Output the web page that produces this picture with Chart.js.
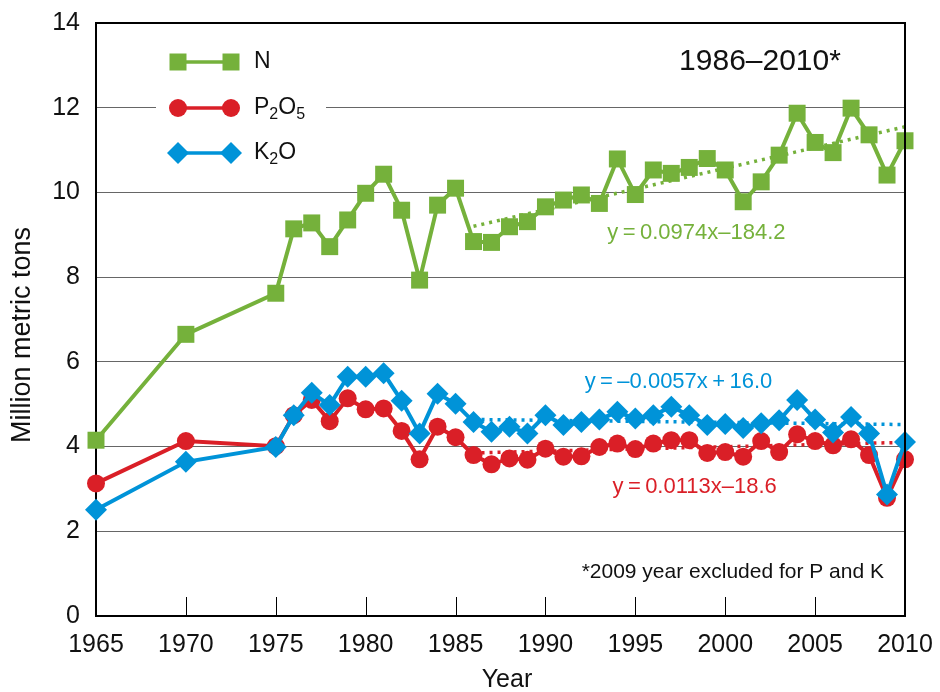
<!DOCTYPE html>
<html>
<head>
<meta charset="utf-8">
<script src="https://cdn.jsdelivr.net/npm/chart.js@4.4.1/dist/chart.umd.min.js"></script>
<style>
  body { margin: 0; background: #fff; }
  #wrap { width: 940px; height: 692px; }
</style>
</head>
<body>
<div id="wrap"><canvas id="fertChart" width="940" height="692"></canvas></div>
<script>
// Fertilizer use data (million metric tons)
const years = [1965, 1970, 1975, 1976, 1977, 1978, 1979, 1980, 1981, 1982, 1983, 1984, 1985,
    1986, 1987, 1988, 1989, 1990, 1991, 1992, 1993, 1994, 1995, 1996, 1997, 1998, 1999,
    2000, 2001, 2002, 2003, 2004, 2005, 2006, 2007, 2008, 2009, 2010];
const nValues = [4.15, 6.65, 7.62, 9.14, 9.28, 8.72, 9.35, 9.98, 10.43, 9.58, 7.93, 9.70, 10.10,
    8.84, 8.82, 9.19, 9.31, 9.66, 9.82, 9.94, 9.74, 10.79, 9.95, 10.53, 10.45, 10.59, 10.80,
    10.53, 9.78, 10.25, 10.88, 11.87, 11.18, 10.94, 11.99, 11.36, 10.41, 11.22];
const pValues = [3.13, 4.13, 4.01, 4.74, 5.10, 4.60, 5.14, 4.88, 4.90, 4.37, 3.70, 4.47, 4.22,
    3.80, 3.58, 3.72, 3.69, 3.95, 3.76, 3.77, 3.99, 4.07, 3.94, 4.07, 4.15, 4.15, 3.85,
    3.87, 3.76, 4.13, 3.87, 4.29, 4.13, 4.03, 4.17, 3.80, 2.79, 3.70];
const kValues = [2.51, 3.64, 3.99, 4.74, 5.27, 4.98, 5.65, 5.65, 5.73, 5.08, 4.31, 5.25, 5.01,
    4.58, 4.35, 4.47, 4.31, 4.74, 4.51, 4.58, 4.64, 4.82, 4.66, 4.74, 4.94, 4.74, 4.51,
    4.53, 4.44, 4.55, 4.62, 5.10, 4.64, 4.33, 4.70, 4.31, 2.87, 4.11];

// trend lines 1986-2010 (end points)
const trendYears = [1986, 2010];
const nTrend = [9.2, 11.55];
const pTrend = [3.85, 4.1];
const kTrend = [4.64, 4.52];

const xTicks = [1965, 1970, 1975, 1980, 1985, 1990, 1995, 2000, 2005, 2010];
const yTicks = [0, 2, 4, 6, 8, 10, 12, 14];

const GREEN = '#75b13b';
const RED = '#da1f27';
const BLUE = '#0093d8';
const FONT = '"Liberation Sans", Arial, Helvetica, sans-serif';

function pts(xs, ys) {
    return xs.map((x, i) => ({ x: x, y: ys[i] }));
}

function drawMarker(ctx, style, x, y, color) {
    ctx.fillStyle = color;
    ctx.beginPath();
    if (style === 'rect') {
        ctx.rect(x - 8.5, y - 8.5, 17, 17);
    } else if (style === 'circle') {
        ctx.arc(x, y, 9, 0, Math.PI * 2);
    } else {
        ctx.moveTo(x, y - 11); ctx.lineTo(x + 11, y); ctx.lineTo(x, y + 11); ctx.lineTo(x - 11, y);
        ctx.closePath();
    }
    ctx.fill();
}

// text with subscript digits, e.g. P2O5
function drawChem(ctx, text, x, y) {
    let cx = x;
    for (const ch of text) {
        if (/[0-9]/.test(ch)) {
            ctx.font = '16px ' + FONT;
            ctx.fillText(ch, cx, y + 7);
        } else {
            ctx.font = '23px ' + FONT;
            ctx.fillText(ch, cx, y);
        }
        cx += ctx.measureText(ch).width;
    }
}

const decorPlugin = {
    id: 'decor',
    afterDraw(chart) {
        const ctx = chart.ctx;
        const area = chart.chartArea;
        const xs = chart.scales.x;
        const ys = chart.scales.y;
        ctx.save();

        // inner tick marks on x axis
        ctx.strokeStyle = '#000';
        ctx.lineWidth = 1;
        xTicks.forEach(t => {
            const px = Math.round(xs.getPixelForValue(t)) + 0.5;
            ctx.beginPath();
            ctx.moveTo(px, area.bottom - 19);
            ctx.lineTo(px, area.bottom);
            ctx.stroke();
        });

        // box top and right
        ctx.lineWidth = 2;
        ctx.beginPath();
        ctx.moveTo(area.left, area.top);
        ctx.lineTo(area.right, area.top);
        ctx.lineTo(area.right, area.bottom);
        ctx.stroke();

        // legend
        ctx.fillStyle = '#fff';
        ctx.fillRect(156, 38, 170, 138);
        const items = [
            { label: 'N', color: GREEN, style: 'rect', y: 62 },
            { label: 'P2O5', color: RED, style: 'circle', y: 108 },
            { label: 'K2O', color: BLUE, style: 'diamond', y: 153 }
        ];
        items.forEach(it => {
            ctx.strokeStyle = it.color;
            ctx.lineWidth = 3.5;
            ctx.beginPath();
            ctx.moveTo(178, it.y);
            ctx.lineTo(231, it.y);
            ctx.stroke();
            drawMarker(ctx, it.style, 178, it.y, it.color);
            drawMarker(ctx, it.style, 231, it.y, it.color);
            ctx.fillStyle = '#111';
            ctx.textBaseline = 'middle';
            ctx.textAlign = 'left';
            drawChem(ctx, it.label, 254, it.y);
        });

        // period label and footnote
        ctx.fillStyle = '#111';
        ctx.textAlign = 'center';
        ctx.textBaseline = 'middle';
        ctx.font = '30px ' + FONT;
        ctx.fillText('1986\u20132010*', 760, 62);
        ctx.textAlign = 'right';
        ctx.font = '21px ' + FONT;
        ctx.fillText('*2009 year excluded for P and K', 884, 572);

        // trend equations
        ctx.textAlign = 'center';
        ctx.font = '22px ' + FONT;
        ctx.fillStyle = GREEN;
        ctx.fillText('y\u2009=\u20090.0974x\u2013184.2', xs.getPixelForValue(1998.4), ys.getPixelForValue(9.04));
        ctx.fillStyle = BLUE;
        ctx.fillText('y\u2009=\u2009\u20130.0057x\u2009+\u200916.0', xs.getPixelForValue(1997.4), ys.getPixelForValue(5.52));
        ctx.fillStyle = RED;
        ctx.fillText('y\u2009=\u20090.0113x\u201318.6', xs.getPixelForValue(1998.3), ys.getPixelForValue(3.04));

        // axis titles
        ctx.fillStyle = '#111';
        ctx.font = '25px ' + FONT;
        ctx.fillText('Year', 507, 680);
        ctx.translate(23, 335);
        ctx.rotate(-Math.PI / 2);
        ctx.font = '27px ' + FONT;
        ctx.fillText('Million metric tons', 0, 0);
        ctx.restore();
    }
};

const lineStyle = (color, style, radius) => ({
    borderColor: color,
    backgroundColor: color,
    borderWidth: 4,
    pointStyle: style,
    pointRadius: radius,
    pointHoverRadius: radius,
    pointBackgroundColor: color,
    pointBorderColor: color,
    pointBorderWidth: 0,
    tension: 0,
    clip: false
});

const trendStyle = (color) => ({
    borderColor: color,
    borderWidth: 3.5,
    borderDash: [3, 5],
    borderCapStyle: 'butt',
    pointRadius: 0,
    fill: false
});

window.fertChart = new Chart(document.getElementById('fertChart'), {
    type: 'line',
    data: {
        datasets: [
            Object.assign({ label: 'N', data: pts(years, nValues), order: 0 }, lineStyle(GREEN, 'rect', 12)),
            Object.assign({ label: 'K2O', data: pts(years, kValues), order: 1 }, lineStyle(BLUE, 'rectRot', 11)),
            Object.assign({ label: 'P2O5', data: pts(years, pValues), order: 2 }, lineStyle(RED, 'circle', 9)),
            Object.assign({ label: 'N trend', data: pts(trendYears, nTrend), order: 3 }, trendStyle(GREEN)),
            Object.assign({ label: 'K trend', data: pts(trendYears, kTrend), order: 4 }, trendStyle(BLUE)),
            Object.assign({ label: 'P trend', data: pts(trendYears, pTrend), order: 5 }, trendStyle(RED))
        ]
    },
    options: {
        responsive: false,
        animation: false,
        events: [],
        layout: { padding: { left: 0, right: 35, top: 23, bottom: 0 } },
        scales: {
            x: {
                type: 'linear',
                min: 1965,
                max: 2010,
                afterFit: scale => {
                    scale.height = 76;
                    scale.paddingLeft = 0;
                    scale.paddingRight = 0;
                },
                afterBuildTicks: scale => { scale.ticks = xTicks.map(v => ({ value: v })); },
                grid: { display: false, drawTicks: false },
                border: { display: true, color: '#000', width: 2 },
                ticks: {
                    color: '#111',
                    padding: 14,
                    maxRotation: 0,
                    font: { family: FONT, size: 25 },
                    callback: v => String(v)
                }
            },
            y: {
                min: 0,
                max: 14,
                afterFit: scale => {
                    scale.width = 96;
                    scale.paddingTop = 0;
                    scale.paddingBottom = 0;
                },
                afterBuildTicks: scale => { scale.ticks = yTicks.map(v => ({ value: v })); },
                grid: { color: '#666', lineWidth: 1, drawTicks: false },
                border: { display: true, color: '#000', width: 2 },
                ticks: {
                    color: '#111',
                    padding: 16,
                    font: { family: FONT, size: 25 },
                    callback: v => String(v)
                }
            }
        },
        plugins: {
            legend: { display: false },
            tooltip: { enabled: false }
        }
    },
    plugins: [decorPlugin]
});
</script>
</body>
</html>
